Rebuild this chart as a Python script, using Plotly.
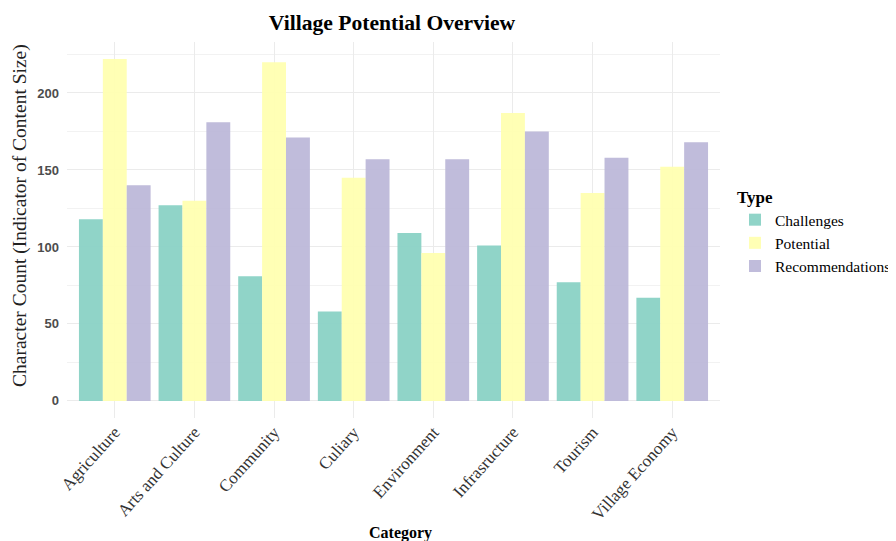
import plotly.graph_objects as go

categories = ["Agriculture", "Arts and Culture", "Community", "Culiary", "Environment",
              "Infrasructure", "Tourism", "Village Economy"]
challenges = [118, 127, 81, 58, 109, 101, 77, 67]
potential = [222, 130, 220, 145, 96, 187, 135, 152]
recommendations = [140, 181, 171, 157, 157, 175, 158, 168]

series = [("Challenges", challenges, "#8DD3C7"),
          ("Potential", potential, "#FFFFB3"),
          ("Recommendations", recommendations, "#BEBADA")]

fig = go.Figure()
for name, vals, col in series:
    fig.add_trace(go.Bar(x=categories, y=vals, name=name, marker_color=col,
                         marker_line_width=0, opacity=0.97))

serif = "Liberation Serif, Times New Roman, serif"
W, H = 896, 541
OFF = 8  # page body offset
L, R, T, B = 67 - OFF, W - (720 - OFF), 42 - OFF, H - (418 - OFF)
plot_h = H - T - B

fig.update_layout(
    width=W, height=H,
    margin=dict(l=L, r=R, t=T, b=B, autoexpand=False),
    plot_bgcolor="white", paper_bgcolor="white",
    barmode="group", bargap=0.1, bargroupgap=0,
    title=dict(text="<b>Village Potential Overview</b>", x=(392 - OFF) / W, xanchor="center",
               y=1 - (22 - OFF) / H, yanchor="middle", font=dict(family=serif, size=21.6, color="black")),
    legend=dict(title=dict(text="<b>Type</b>", font=dict(family=serif, size=17, color="black")),
                font=dict(family=serif, size=15.5, color="black"),
                xref="container", yref="container",
                x=(735 - OFF) / W, xanchor="left", y=1 - (181 - OFF) / H, yanchor="top",
                tracegroupgap=0, itemsizing="constant"),
    font=dict(family=serif),
    annotations=[
        dict(text="<b>Category</b>", xref="paper", yref="paper",
             x=(400 - 67) / (720 - 67), y=-(533 - 418) / plot_h, xanchor="center", yanchor="middle",
             showarrow=False, font=dict(family=serif, size=16, color="black")),
        dict(text="Character Count (Indicator of Content Size)", xref="paper", yref="paper",
             x=-(67 - 20) / (720 - 67), y=(418 - 216) / plot_h, xanchor="center", yanchor="middle",
             textangle=-90, showarrow=False, font=dict(family=serif, size=19.5, color="#222222")),
    ],
)
fig.update_xaxes(
    tickangle=-48, tickfont=dict(family=serif, size=17, color="#333333"),
    showgrid=True, gridcolor="#EBEBEB", gridwidth=1.3, showline=False, zeroline=False,
    ticks="", range=[-0.6, 7.6], automargin=False,
)
fig.update_yaxes(
    tickfont=dict(family="Liberation Sans, Arial, sans-serif", size=13, color="#4D4D4D", weight="bold"),
    range=[-11.1, 233.1], tickvals=[0, 50, 100, 150, 200], automargin=False, ticklabelstandoff=7,
    showgrid=True, gridcolor="#EBEBEB", gridwidth=1.3, zeroline=False, showline=False,
    minor=dict(tickvals=[25, 75, 125, 175, 225], showgrid=True, gridcolor="#F2F2F2", gridwidth=0.9),
)

fig.write_html("out.html")
